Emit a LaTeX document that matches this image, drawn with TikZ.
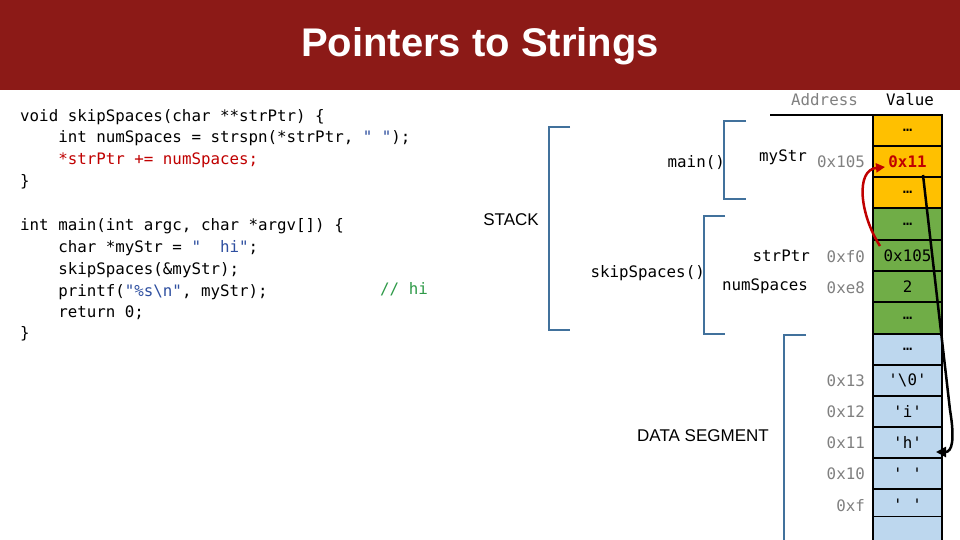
\documentclass[tikz,border=0pt]{standalone}
\usepackage{fontspec}
\setmainfont{Liberation Sans}
\newfontfamily\codefont{DejaVu Sans Mono}[Scale=0.93]
\usetikzlibrary{arrows.meta}
\definecolor{hdr}{HTML}{8C1A17}
\definecolor{ylw}{HTML}{FFC000}
\definecolor{grn}{HTML}{70AD47}
\definecolor{blu}{HTML}{BDD7EE}
\definecolor{brk}{HTML}{41719C}
\definecolor{cred}{HTML}{C00000}
\definecolor{cblue}{HTML}{2E4FA0}
\definecolor{cgreen}{HTML}{2E9A48}
\tikzset{
 code/.style={anchor=west,inner sep=0pt,font=\codefont\fontsize{17}{20}\selectfont},
 cell/.style={draw=black,line width=1.5pt,minimum width=69pt,minimum height=31pt,inner sep=0pt,font=\codefont\fontsize{17}{20}\selectfont},
 addr/.style={anchor=east,inner sep=0pt,text=gray,font=\codefont\fontsize{17}{20}\selectfont},
 lbl/.style={anchor=east,inner sep=0pt,font=\codefont\fontsize{17}{20}\selectfont},
 brace/.style={draw=brk,line width=1.3pt},
 sans/.style={inner sep=0pt,font=\fontsize{17}{20}\selectfont}
}
\begin{document}
\begin{tikzpicture}[x=1pt,y=-1pt]
\useasboundingbox (0,0) rectangle (960,540);
\fill[white] (0,0) rectangle (960,540);
\fill[hdr] (0,0) rectangle (960,90);
\node[text=white,font=\bfseries\fontsize{40}{44}\selectfont] (title) at (480,46) {Pointers to Strings};
% code
\node[code] (c1) at (20,117) {void skipSpaces(char **strPtr) \{};
\node[code] (c2) at (20,138) {\ \ \ \ int numSpaces = strspn(*strPtr, \textcolor{cblue}{" "});};
\node[code,text=cred] (c3) at (20,160) {\ \ \ \ *strPtr += numSpaces;};
\node[code] (c4) at (20,182) {\}};
\node[code] (c5) at (20,226) {int main(int argc, char *argv[]) \{};
\node[code] (c6) at (20,248) {\ \ \ \ char *myStr = \textcolor{cblue}{"\ \ hi"};};
\node[code] (c7) at (20,270) {\ \ \ \ skipSpaces(\&myStr);};
\node[code] (c8) at (20,292) {\ \ \ \ printf(\textcolor{cblue}{"\%s\textbackslash n"}, myStr);};
\node[code,text=cgreen] (c8b) at (380,289) {// hi};
\node[code] (c9) at (20,313) {\ \ \ \ return 0;};
\node[code] (c10) at (20,334) {\}};
% header of table
\node[addr] (ha) at (858,100) {Address};
\node[lbl] (hv) at (934,100) {Value};
\draw[line width=1.3pt] (770,115) -- (942,115);
% cells
\foreach \n/\y/\c/\t in {m0/130.5/ylw/…, m1/161.5/ylw/\textcolor{cred}{\textbf{0x11}}, m2/192.5/ylw/…,
  m3/224/grn/…, m4/255.5/grn/0x105, m5/286.5/grn/2, m6/318/grn/…,
  m7/349.5/blu/…, m8/380.5/blu/'\textbackslash 0', m9/411.5/blu/'i', m10/442.5/blu/'h', m11/473.5/blu/'\ ', m12/504.5/blu/'\ ', m13/532/blu/{}}
  \node[cell,fill=\c] (\n) at (907.5,\y) {\t};
% addresses
\node[addr] (a1) at (865,162) {0x105};
\node[addr] (a4) at (865,257) {0xf0};
\node[addr] (a5) at (865,288) {0xe8};
\node[addr] (a8) at (865,381) {0x13};
\node[addr] (a9) at (865,412) {0x12};
\node[addr] (a10) at (865,443) {0x11};
\node[addr] (a11) at (865,474) {0x10};
\node[addr] (a12) at (865,506) {0xf};
% variable labels
\node[lbl] (v1) at (807,157) {myStr};
\node[lbl] (v4) at (810,256) {strPtr};
\node[lbl] (v5) at (808,286) {numSpaces};
\node[lbl] (f1) at (725,163) {main()};
\node[lbl] (f2) at (705,273) {skipSpaces()};
\node[sans] (stk) at (511,220) {STACK};
\node[sans] (ds) at (703,436) {DATA SEGMENT};
% brackets
\draw[brace] (570,127) -- (549,127) -- (549,330) -- (570,330);
\draw[brace] (746,121) -- (724,121) -- (724,199) -- (746,199);
\draw[brace] (725,216) -- (704,216) -- (704,334) -- (725,334);
\draw[brace] (806,335) -- (784,335) -- (784,540);
% arrows
\draw[cred,line width=2.5pt,-{Triangle[length=9pt,width=9pt]}] (880,246) .. controls (860,215) and (855,170) .. (885,167);
\draw[black,line width=2.5pt,-{Triangle[length=10pt,width=10pt]}] (923,175) -- (950,410) .. controls (955,440) and (952,452) .. (936,452);
\end{tikzpicture}
\end{document}
